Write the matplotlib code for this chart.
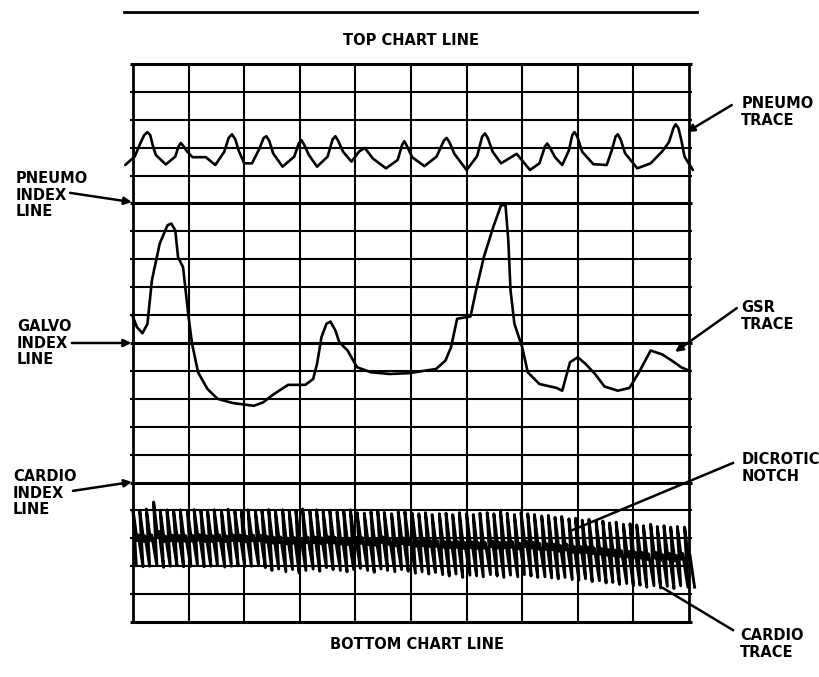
import numpy as np
import matplotlib
matplotlib.use("Agg")
import matplotlib.pyplot as plt
from matplotlib import font_manager

# czcionka - waska jesli jest
try:
    font_manager.findfont(font_manager.FontProperties(family="Liberation Sans Narrow", weight="bold"),
                          fallback_to_default=False)
    rodzina = "Liberation Sans Narrow"
    rozmiar = 13
except ValueError:
    rodzina = "DejaVu Sans"
    rozmiar = 10.5

# siatka: 10 kolumn, 20 wierszy
n_kol = 10
n_wier = 20
linie_indeksu = [5, 10, 15]

# pneumo (kolumna, wiersz)
pneumo_x = [-0.14, 0.03, 0.13, 0.20, 0.26, 0.31, 0.36, 0.41, 0.59, 0.76, 0.82, 0.86, 0.91, 0.97,
            1.07, 1.31, 1.48, 1.64, 1.72, 1.78, 1.84, 1.90, 2.00, 2.14, 2.27, 2.35, 2.40, 2.45,
            2.52, 2.69, 2.90, 2.98, 3.03, 3.08, 3.16, 3.31, 3.50, 3.59, 3.64, 3.69, 3.78, 3.93,
            4.07, 4.17, 4.31, 4.55, 4.76, 4.84, 4.88, 4.93, 5.02, 5.24, 5.46, 5.59, 5.64, 5.69,
            5.78, 6.00, 6.19, 6.28, 6.33, 6.38, 6.47, 6.62, 6.90, 7.14, 7.31, 7.41, 7.45, 7.50,
            7.59, 7.72, 7.84, 7.90, 7.94, 7.99, 8.08, 8.28, 8.52, 8.61, 8.68, 8.72, 8.77, 8.85,
            9.07, 9.31, 9.52, 9.64, 9.72, 9.76, 9.81, 9.86, 9.92, 10.07]
pneumo_y = [16.38, 16.68, 17.15, 17.45, 17.56, 17.45, 17.05, 16.74, 16.40, 16.68, 17.05, 17.17, 17.05,
            16.87, 16.66, 16.66, 16.38, 16.85, 17.35, 17.48, 17.30, 16.90, 16.44, 16.44, 16.95,
            17.35, 17.41, 17.25, 16.80, 16.32, 16.68, 17.15, 17.27, 17.10, 16.75, 16.32, 16.68,
            17.30, 17.41, 17.25, 16.85, 16.50, 16.87, 16.99, 16.62, 16.26, 16.56, 17.10, 17.23,
            17.05, 16.66, 16.34, 16.68, 17.25, 17.35, 17.20, 16.78, 16.20, 16.70, 17.40, 17.51,
            17.35, 16.85, 16.44, 16.78, 16.20, 16.44, 17.05, 17.15, 17.00, 16.66, 16.38, 16.90,
            17.45, 17.56, 17.40, 16.85, 16.41, 16.38, 16.90, 17.40, 17.48, 17.30, 16.80, 16.26,
            16.44, 16.87, 17.20, 17.70, 17.84, 17.70, 17.29, 16.68, 16.20]

# GSR
gsr_x = [-0.01, 0.07, 0.17, 0.26, 0.34, 0.48, 0.62, 0.69, 0.76, 0.81, 0.90, 1.00, 1.06, 1.17,
         1.34, 1.52, 1.79, 2.17, 2.34, 2.52, 2.79, 3.10, 3.24, 3.31, 3.39, 3.48, 3.55, 3.64,
         3.71, 3.86, 4.03, 4.28, 4.62, 4.97, 5.45, 5.62, 5.72, 5.83, 6.07, 6.17, 6.31, 6.48,
         6.62, 6.70, 6.75, 6.79, 6.86, 7.00, 7.10, 7.31, 7.62, 7.72, 7.86, 8.00, 8.14, 8.31,
         8.48, 8.72, 8.93, 9.10, 9.31, 9.52, 9.69, 9.86, 10.00]
gsr_y = [10.99, 10.57, 10.35, 10.69, 12.25, 13.56, 14.22, 14.28, 14.04, 13.08, 12.72, 10.93, 10.00, 8.95,
         8.35, 8.00, 7.85, 7.75, 7.87, 8.15, 8.50, 8.50, 8.71, 9.25, 10.21, 10.69, 10.77, 10.45,
         10.03, 9.73, 9.13, 8.95, 8.89, 8.92, 9.07, 9.37, 9.85, 10.87, 10.95, 11.89, 13.08, 14.16,
         14.94, 14.94, 13.68, 11.89, 10.69, 9.85, 8.95, 8.53, 8.39, 8.29, 9.31, 9.49, 9.25, 8.89,
         8.44, 8.29, 8.39, 8.95, 9.73, 9.59, 9.37, 9.13, 9.01]

# cardio - poczatek kazdego uderzenia, szczyt i dol
uderzenia_x = [0.06, 0.18, 0.30, 0.43, 0.55, 0.67, 0.79, 0.91, 1.04, 1.16,
               1.28, 1.40, 1.52, 1.65, 1.77, 1.89, 2.01, 2.13, 2.26, 2.38,
               2.50, 2.62, 2.75, 2.87, 2.99, 3.11, 3.24, 3.36, 3.48, 3.60,
               3.73, 3.85, 3.97, 4.09, 4.22, 4.34, 4.46, 4.58, 4.71, 4.83,
               4.95, 5.08, 5.20, 5.32, 5.44, 5.57, 5.69, 5.81, 5.93, 6.06,
               6.18, 6.30, 6.43, 6.55, 6.67, 6.79, 6.92, 7.04, 7.16, 7.28,
               7.41, 7.53, 7.65, 7.77, 7.90, 8.02, 8.14, 8.26, 8.39, 8.51,
               8.63, 8.75, 8.88, 9.00, 9.12, 9.24, 9.37, 9.49, 9.61, 9.73, 9.85, 9.98]
uderzenia_gora = [4.02, 4.00, 4.05, 4.30, 4.00, 4.02, 3.98, 4.02, 4.00, 4.03,
                  4.00, 3.98, 4.02, 4.00, 4.04, 4.00, 3.97, 4.02, 4.00, 3.98,
                  4.03, 4.00, 4.02, 3.98, 4.00, 4.05, 4.00, 4.02, 3.96, 4.00,
                  3.95, 3.98, 4.02, 3.92, 3.90, 3.95, 4.00, 3.93, 3.88, 3.95,
                  3.95, 3.90, 3.88, 3.92, 3.85, 3.88, 3.90, 3.85, 3.92, 3.88,
                  3.85, 3.90, 3.92, 3.88, 3.95, 3.90, 3.85, 3.92, 3.88, 3.85,
                  3.80, 3.82, 3.75, 3.78, 3.70, 3.72, 3.65, 3.68, 3.60, 3.62,
                  3.55, 3.58, 3.50, 3.52, 3.48, 3.45, 3.50, 3.42, 3.45, 3.40, 3.42, 3.40]
uderzenia_dol = [2.02, 1.98, 2.00, 2.02, 1.96, 2.00, 2.02, 1.98, 2.00, 2.03,
                 1.98, 2.00, 2.02, 1.97, 2.00, 2.02, 1.98, 2.00, 2.02, 1.95,
                 1.85, 1.90, 1.80, 1.88, 1.75, 1.85, 1.90, 1.82, 1.95, 1.88,
                 1.85, 1.80, 1.88, 1.92, 1.85, 1.78, 1.90, 1.85, 1.80, 1.88,
                 1.82, 1.75, 1.80, 1.72, 1.78, 1.70, 1.65, 1.72, 1.60, 1.68,
                 1.65, 1.62, 1.70, 1.65, 1.60, 1.68, 1.62, 1.70, 1.65, 1.60,
                 1.62, 1.58, 1.55, 1.60, 1.52, 1.50, 1.55, 1.45, 1.48, 1.40,
                 1.42, 1.35, 1.38, 1.30, 1.32, 1.25, 1.30, 1.22, 1.28, 1.20, 1.30, 1.25]

# uklad rysunku
fig = plt.figure(figsize=(8.2, 6.77), dpi=100)
ax = fig.add_axes([133 / 820, 1 - 622 / 677, 556 / 820, 558 / 677])
ax.set_xlim(0, n_kol)
ax.set_ylim(0, n_wier)
ax.axis("off")

# siatka
for w in range(n_wier + 1):
    gruba = w in linie_indeksu or w in (0, n_wier)
    ax.plot([-0.06, n_kol + 0.06], [w, w], color="black", lw=2.2 if gruba else 1.5,
            clip_on=False, solid_capstyle="butt")
for k in range(n_kol + 1):
    ax.plot([k, k], [0, n_wier], color="black", lw=2.0 if k in (0, n_kol) else 1.5,
            clip_on=False, solid_capstyle="butt")

# linia gorna wykresu
ax.plot([-0.17, 10.14], [21.85, 21.85], color="black", lw=2.0, clip_on=False)

# slady
ax.plot(pneumo_x, pneumo_y, color="black", lw=1.9, clip_on=False,
        solid_joinstyle="round", solid_capstyle="round")
ax.plot(gsr_x, gsr_y, color="black", lw=1.9, clip_on=False,
        solid_joinstyle="round", solid_capstyle="round")

# cardio: pioro chodzi po luku, wiec obie krawedzie sa pochylone "\"
cx = []
cy = []
for i in range(len(uderzenia_x)):
    x0 = uderzenia_x[i]
    g = uderzenia_gora[i]
    d = uderzenia_dol[i]
    wciecie = d + 0.45 * (g - d)
    cx += [x0, x0 - 0.06, x0 + 0.015, x0 + 0.035]
    cy += [d, g, wciecie, wciecie + 0.2]
cx.append(uderzenia_x[-1] + 0.12)
cy.append(uderzenia_dol[-1])
ax.plot(cx, cy, color="black", lw=2.1, clip_on=False, solid_joinstyle="round")

# napisy
styl = dict(fontfamily=rodzina, fontweight="bold", fontsize=rozmiar, color="black",
            clip_on=False, linespacing=1.1)
ax.text(5.0, 20.83, "TOP CHART LINE", ha="center", va="center", **styl)
ax.text(5.1, -0.8, "BOTTOM CHART LINE", ha="center", va="center", **styl)

ax.text(-2.12, 15.3, "PNEUMO\nINDEX\nLINE", ha="left", va="center", **styl)
ax.text(-2.09, 10.0, "GALVO\nINDEX\nLINE", ha="left", va="center", **styl)
ax.text(-2.16, 4.62, "CARDIO\nINDEX\nLINE", ha="left", va="center", **styl)
ax.text(10.94, 18.28, "PNEUMO\nTRACE", ha="left", va="center", **styl)
ax.text(10.94, 10.97, "GSR\nTRACE", ha="left", va="center", **styl)
ax.text(10.94, 5.52, "DICROTIC\nNOTCH", ha="left", va="center", **styl)
ax.text(10.92, -0.79, "CARDIO\nTRACE", ha="left", va="center", **styl)

# strzalki
strzalka = dict(arrowstyle="-|>", color="black", lw=1.8, mutation_scale=11,
                shrinkA=0, shrinkB=0)
for start, koniec in [((-1.13, 15.38), (-0.02, 15.05)),
                      ((-1.10, 10.0), (-0.03, 10.0)),
                      ((-1.08, 4.70), (-0.02, 5.02)),
                      ((10.77, 18.53), (9.96, 17.56)),
                      ((10.86, 11.25), (9.75, 9.68))]:
    ax.annotate("", xy=koniec, xytext=start, arrowprops=strzalka, annotation_clip=False)

# linie bez grotu
ax.plot([10.79, 7.91], [5.70, 3.30], color="black", lw=1.8, clip_on=False)
ax.plot([10.79, 9.53], [-0.29, 1.22], color="black", lw=1.8, clip_on=False)

fig.savefig("out.png", dpi=100, facecolor="white")
